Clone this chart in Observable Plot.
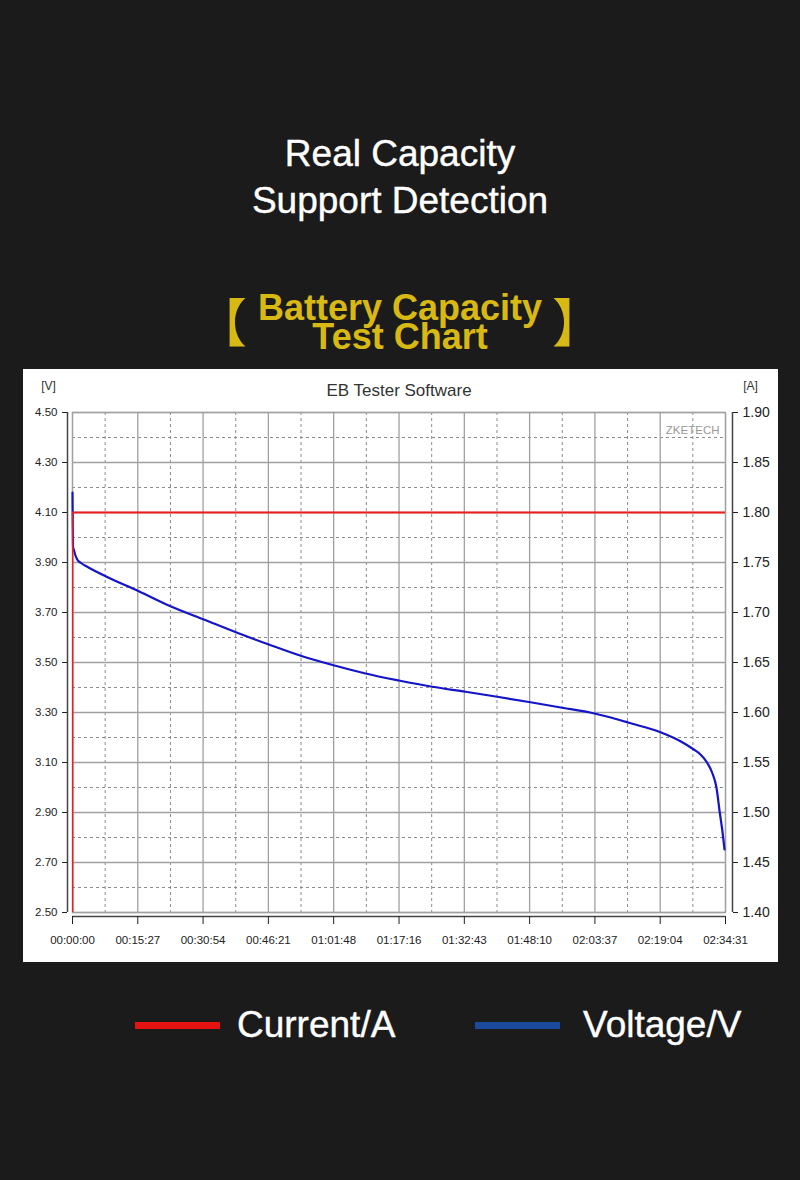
<!DOCTYPE html>
<html>
<head>
<meta charset="utf-8">
<script src="https://cdn.jsdelivr.net/npm/d3@7"></script>
<script src="https://cdn.jsdelivr.net/npm/@observablehq/plot@0.6"></script>
<style>
  body { margin: 0; background: #1b1b1b; width: 800px; height: 1180px; position: relative; overflow: hidden;
         font-family: "Liberation Sans", Arial, sans-serif; }
  .head { position: absolute; left: 0; width: 800px; top: 130px; text-align: center; color: #fff;
          font-size: 37px; line-height: 47px; -webkit-text-stroke: 0.4px #fff; }
  .sub { position: absolute; left: 0; width: 800px; top: 293px; text-align: center; color: #d8b914;
         font-weight: bold; font-size: 36px; line-height: 29px; }
  .br { position: absolute; color: #d8b914; font-family: "Noto Sans CJK SC"; font-size: 52px; line-height: 52px; }
  #chart { position: absolute; left: 23px; top: 369px; width: 755px; height: 593px; background: #fff; }
  .key { position: absolute; top: 1022px; width: 85px; height: 7px; }
  .lab { position: absolute; top: 1006px; color: #fff; font-size: 37px; line-height: 37px; -webkit-text-stroke: 0.4px #fff; }
</style>
</head>
<body>
<div class="head">Real Capacity<br>Support Detection</div>
<span class="br" style="left:195px; top:294px;">【</span>
<span class="br" style="left:552px; top:294px;">】</span>
<div class="sub">Battery Capacity<br>Test Chart</div>
<div id="chart"></div>
<div class="key" style="left:135px; background:#e51212;"></div>
<div class="lab" style="left:237px;">Current/A</div>
<div class="key" style="left:475px; background:#1b4a9c;"></div>
<div class="lab" style="left:583px;">Voltage/V</div>
<script>
// time axis, seconds since start of the test
const timeTicks = [0, 927, 1854, 2781, 3708, 4636, 5563, 6490, 7417, 8344, 9271]
const timeLabels = ['00:00:00', '00:15:27', '00:30:54', '00:46:21', '01:01:48', '01:17:16',
                    '01:32:43', '01:48:10', '02:03:37', '02:19:04', '02:34:31']
const voltTicks = [2.5, 2.7, 2.9, 3.1, 3.3, 3.5, 3.7, 3.9, 4.1, 4.3, 4.5]
const ampTicks = [1.40, 1.45, 1.50, 1.55, 1.60, 1.65, 1.70, 1.75, 1.80, 1.85, 1.90]

// voltage curve
const voltTimes = [0, 8, 18, 40, 67, 120, 209, 469, 941, 1391, 1864, 2338, 2787, 3261, 3734, 4160, 4633,
                   5107, 5580, 6030, 6502, 6953, 7425, 7780, 7898, 8348, 8632, 8821, 8916, 9011, 9082,
                   9143, 9190, 9224, 9257]
const volts = [4.18, 3.96, 3.952, 3.93, 3.912, 3.898, 3.883, 3.845, 3.785, 3.725, 3.672, 3.619, 3.572,
               3.525, 3.487, 3.456, 3.428, 3.403, 3.383, 3.363, 3.341, 3.319, 3.295, 3.269, 3.259,
               3.221, 3.185, 3.152, 3.132, 3.099, 3.059, 2.999, 2.899, 2.832, 2.752]

// current: switched on at t=0, constant 1.80 A
const currentTimes = [0, 0, 9271]
const currents = [0, 1.80, 1.80]

// the right [A] axis shares the plot with the [V] axis
const ampToVolt = a => 2.5 + (a - 1.4) * 4
const voltToAmp = v => 1.4 + (v - 2.5) / 4

const voltage = voltTimes.map((t, i) => ({t: t, v: volts[i]}))
const current = currentTimes.map((t, i) => ({t: t, v: ampToVolt(currents[i])}))
const mid = ticks => d3.pairs(ticks, (a, b) => (a + b) / 2)

const grid = '#a0a0a0'
const ink = '#222'

let chart = Plot.plot({
  width: 755,
  height: 593,
  marginLeft: 49,
  marginRight: 53,
  marginTop: 43,
  marginBottom: 50,
  style: {background: '#fff', fontFamily: '"Liberation Sans", Arial, sans-serif', overflow: 'visible'},
  x: {domain: [0, 9271]},
  y: {domain: [2.5, 4.5]},
  marks: [
    Plot.ruleX(mid(timeTicks), {stroke: '#8c8c8c', strokeDasharray: '3,3'}),
    Plot.ruleY(mid(voltTicks), {stroke: '#8c8c8c', strokeDasharray: '3,3'}),
    Plot.ruleX(timeTicks, {stroke: grid, strokeWidth: 1.3}),
    Plot.ruleY(voltTicks, {stroke: grid, strokeWidth: 1.3}),
    Plot.frame({stroke: grid, strokeWidth: 1.3}),
    Plot.line(voltage, {x: 't', y: 'v', stroke: '#1414c8', strokeWidth: 2.2, curve: 'monotone-x'}),
    Plot.line(current, {x: 't', y: 'v', stroke: '#ee1c1c', strokeWidth: 2, clip: true}),

    // left axis [V]
    Plot.ruleX([0], {dx: -5, stroke: '#444', strokeWidth: 1.5}),
    Plot.axisY(voltTicks, {anchor: 'left', label: null, dx: -5, tickSize: 5, tickPadding: 5, fontSize: 11.5,
      color: ink, tickFormat: d3.format('.2f')}),
    // right axis [A]
    Plot.ruleX([9271], {dx: 7, stroke: '#444', strokeWidth: 1.5}),
    Plot.axisY(ampTicks.map(ampToVolt), {anchor: 'right', label: null, dx: 7, tickSize: 5, tickPadding: 5,
      fontSize: 14, color: ink, tickFormat: v => voltToAmp(v).toFixed(2)}),
    // time axis
    Plot.ruleY([2.5], {dy: 4, stroke: '#444', strokeWidth: 1.5}),
    Plot.axisX(timeTicks, {anchor: 'bottom', label: null, dy: 4, tickSize: 8, tickPadding: 11, fontSize: 11.5,
      color: ink, tickFormat: d => timeLabels[timeTicks.indexOf(d)]}),

    Plot.text(['EB Tester Software'], {text: d => d, frameAnchor: 'top', lineAnchor: 'middle', dy: -22,
      fontSize: 17, fill: '#333'}),
    Plot.text(['[V]'], {text: d => d, frameAnchor: 'top-left', lineAnchor: 'middle', textAnchor: 'middle',
      dx: -24, dy: -26, fontSize: 12, fill: '#333'}),
    Plot.text(['[A]'], {text: d => d, frameAnchor: 'top-right', lineAnchor: 'middle', textAnchor: 'middle',
      dx: 25, dy: -26, fontSize: 12, fill: '#333'}),
    Plot.text(['ZKETECH'], {text: d => d, frameAnchor: 'top-right', lineAnchor: 'middle', textAnchor: 'end',
      dx: -6, dy: 18, fontSize: 11.5, fill: '#999'})
  ]
})
d3.select('#chart').append(() => chart)
</script>
</body>
</html>
